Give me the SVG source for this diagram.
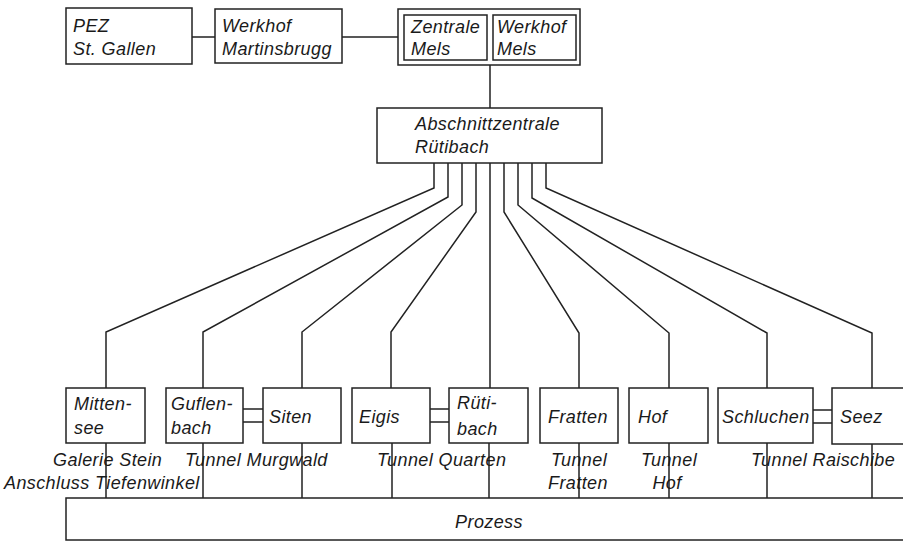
<svg xmlns="http://www.w3.org/2000/svg" width="903" height="542" viewBox="0 0 903 542">
<style>
.box{fill:#fff;stroke:#222;stroke-width:1.5}
.ln{fill:none;stroke:#222;stroke-width:1.5}
text{font-family:"Liberation Sans",Arial,sans-serif;font-style:italic;font-size:18px;fill:#1a1a1a;letter-spacing:0.4px}
.m{text-anchor:middle}
</style>
<rect width="903" height="542" fill="#fff"/>
<g id="connectors">
<path class="ln" d="M192 37H215M342 37H398M490 65V108"/>
<path class="ln" d="M434 163V188L106 332V388M448 163V197L203 332V388M462 163V205L302 332V388M476 163V212L391 332V388M490 163V388M504 163V212L579 333V388M518 163V205L669 333V388M532 163V198L767 333V388M546 163V188L872 333V388"/>
<path class="ln" d="M243 409H263M243 422H263M430 409H449M430 422H449M813 410H832M813 423H832"/>
<path class="ln" d="M106 443V498M203 443V498M302 443V498M392 443V498M489 443V498M579 443V498M669 443V498M767 443V498M872 444V498"/>
</g>
<g id="pez"><rect class="box" x="66" y="8" width="126" height="56"/><text x="73" y="32">PEZ</text><text x="73" y="55">St. Gallen</text></g>
<g id="martinsbrugg"><rect class="box" x="215" y="9" width="127" height="54"/><text x="222" y="32">Werkhof</text><text x="222" y="55">Martinsbrugg</text></g>
<g id="mels"><rect class="box" x="398" y="9" width="182" height="56"/>
<g id="zentrale-mels"><rect class="box" x="404" y="15" width="83" height="45"/><text x="411" y="33">Zentrale</text><text x="411" y="55">Mels</text></g>
<g id="werkhof-mels"><rect class="box" x="493" y="15" width="83" height="45"/><text x="497" y="33">Werkhof</text><text x="497" y="55">Mels</text></g>
</g>
<g id="abschnittzentrale"><rect class="box" x="377" y="108" width="225" height="55"/><text x="415" y="130">Abschnittzentrale</text><text x="415" y="153">Rütibach</text></g>
<g id="mittensee"><rect class="box" x="66" y="388" width="79" height="55"/><text x="74" y="410">Mitten-</text><text x="74" y="434">see</text></g>
<g id="guflenbach"><rect class="box" x="166" y="388" width="77" height="55"/><text x="171" y="410">Guflen-</text><text x="171" y="434">bach</text></g>
<g id="siten"><rect class="box" x="263" y="388" width="78" height="55"/><text x="269" y="423">Siten</text></g>
<g id="eigis"><rect class="box" x="352" y="388" width="78" height="55"/><text x="359" y="423">Eigis</text></g>
<g id="ruetibach"><rect class="box" x="449" y="388" width="79" height="55"/><text x="457" y="409">Rüti-</text><text x="457" y="435">bach</text></g>
<g id="fratten"><rect class="box" x="540" y="388" width="78" height="55"/><text x="548" y="423">Fratten</text></g>
<g id="hof"><rect class="box" x="629" y="388" width="79" height="55"/><text x="638" y="423">Hof</text></g>
<g id="schluchen"><rect class="box" x="718" y="388" width="95" height="55"/><text x="722" y="423">Schluchen</text></g>
<g id="seez"><rect class="box" x="832" y="388" width="80" height="56"/><text x="840" y="423">Seez</text></g>
<g id="labels">
<text x="53" y="466">Galerie Stein</text>
<text x="4" y="489">Anschluss Tiefenwinkel</text>
<text x="185" y="466">Tunnel Murgwald</text>
<text x="377" y="466">Tunnel Quarten</text>
<text class="m" x="579" y="466">Tunnel</text>
<text class="m" x="578" y="489">Fratten</text>
<text class="m" x="669" y="466">Tunnel</text>
<text class="m" x="667" y="489">Hof</text>
<text x="751" y="466">Tunnel Raischibe</text>
</g>
<g id="prozess"><rect class="box" x="66" y="498" width="850" height="42" fill="none"/><text class="m" x="489" y="528">Prozess</text></g>
</svg>
